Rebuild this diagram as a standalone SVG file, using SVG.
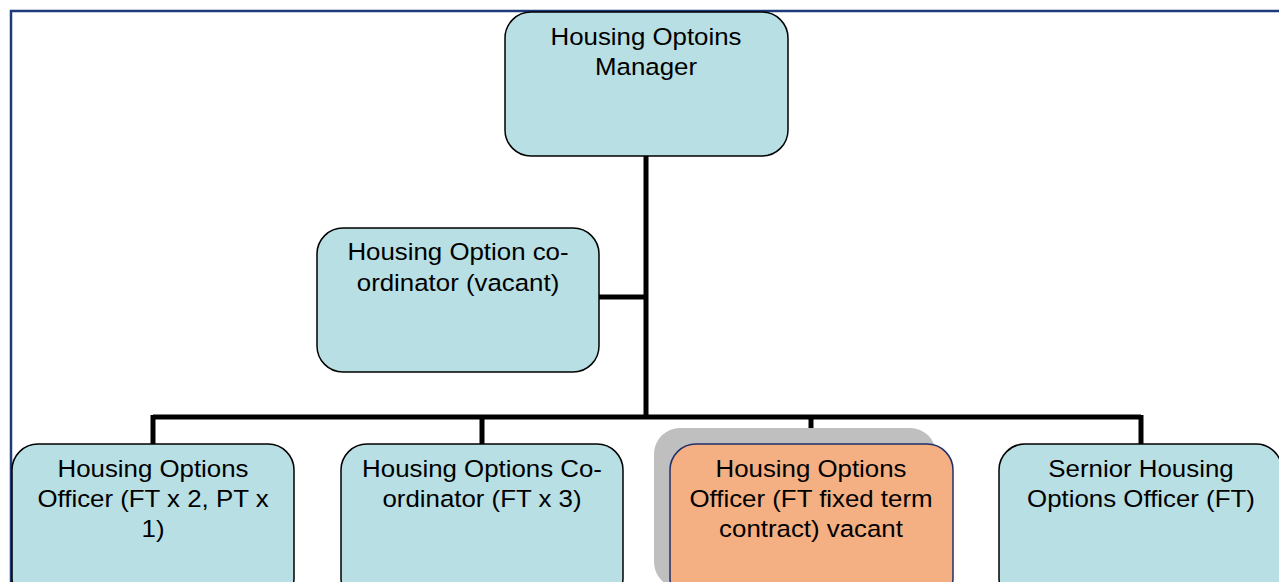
<svg xmlns="http://www.w3.org/2000/svg" width="1279" height="582" viewBox="0 0 1279 582">
<style>
.box{fill:#b8dfe3;stroke:#000;stroke-width:1.5}
.vac{fill:#f4af82;stroke:#1f2f6b;stroke-width:1.5}
.shadow{fill:#bfbfbf}
.conn{stroke:#000;stroke-width:5;fill:none;stroke-linecap:butt}
text{font-family:"Liberation Sans",Arial,sans-serif;font-size:23.5px;fill:#000;text-anchor:middle}
</style>
<rect x="-10" y="0" width="1300" height="600" fill="#fff"/>
<path d="M11 582 V11 H1279" fill="none" stroke="#1f3a7a" stroke-width="2.5"/>
<g id="connectors">
<path class="conn" d="M646 156 V417"/>
<path class="conn" d="M599 297 H646"/>
<path class="conn" d="M153 417 H1141"/>
<path class="conn" d="M153 415 V444"/>
<path class="conn" d="M482 415 V444"/>
<path class="conn" d="M811 415 V444"/>
<path class="conn" d="M1141 415 V444"/>
</g>
<g id="manager">
<rect class="box" x="505" y="12" width="283" height="144" rx="26"/>
<g transform="translate(646,0) scale(1.1,1)">
<text x="0" y="45">Housing Optoins</text>
<text x="0" y="75.5">Manager</text>
</g>
</g>
<g id="coordinator-vacant">
<rect class="box" x="317" y="228" width="282" height="144" rx="26"/>
<g transform="translate(458,0) scale(1.1,1)">
<text x="0" y="260.5">Housing Option co-</text>
<text x="0" y="291">ordinator (vacant)</text>
</g>
</g>
<g id="officer">
<rect class="box" x="12" y="444" width="282" height="160" rx="26"/>
<g transform="translate(153,0) scale(1.1,1)">
<text x="0" y="477">Housing Options</text>
<text x="0" y="507">Officer (FT x 2, PT x</text>
<text x="0" y="537">1)</text>
</g>
</g>
<g id="coordinator">
<rect class="box" x="341" y="444" width="282" height="160" rx="26"/>
<g transform="translate(482,0) scale(1.1,1)">
<text x="0" y="477">Housing Options Co-</text>
<text x="0" y="507">ordinator (FT x 3)</text>
</g>
</g>
<g id="officer-vacant">
<rect class="shadow" x="654" y="428" width="282" height="160" rx="26"/>
<rect class="vac" x="670" y="444" width="283" height="160" rx="26"/>
<g transform="translate(811,0) scale(1.1,1)">
<text x="0" y="477">Housing Options</text>
<text x="0" y="507">Officer (FT fixed term</text>
<text x="0" y="537">contract) vacant</text>
</g>
</g>
<g id="senior-officer">
<rect class="box" x="999" y="444" width="283" height="160" rx="26"/>
<g transform="translate(1141,0) scale(1.1,1)">
<text x="0" y="477">Sernior Housing</text>
<text x="0" y="507">Options Officer (FT)</text>
</g>
</g>
</svg>
